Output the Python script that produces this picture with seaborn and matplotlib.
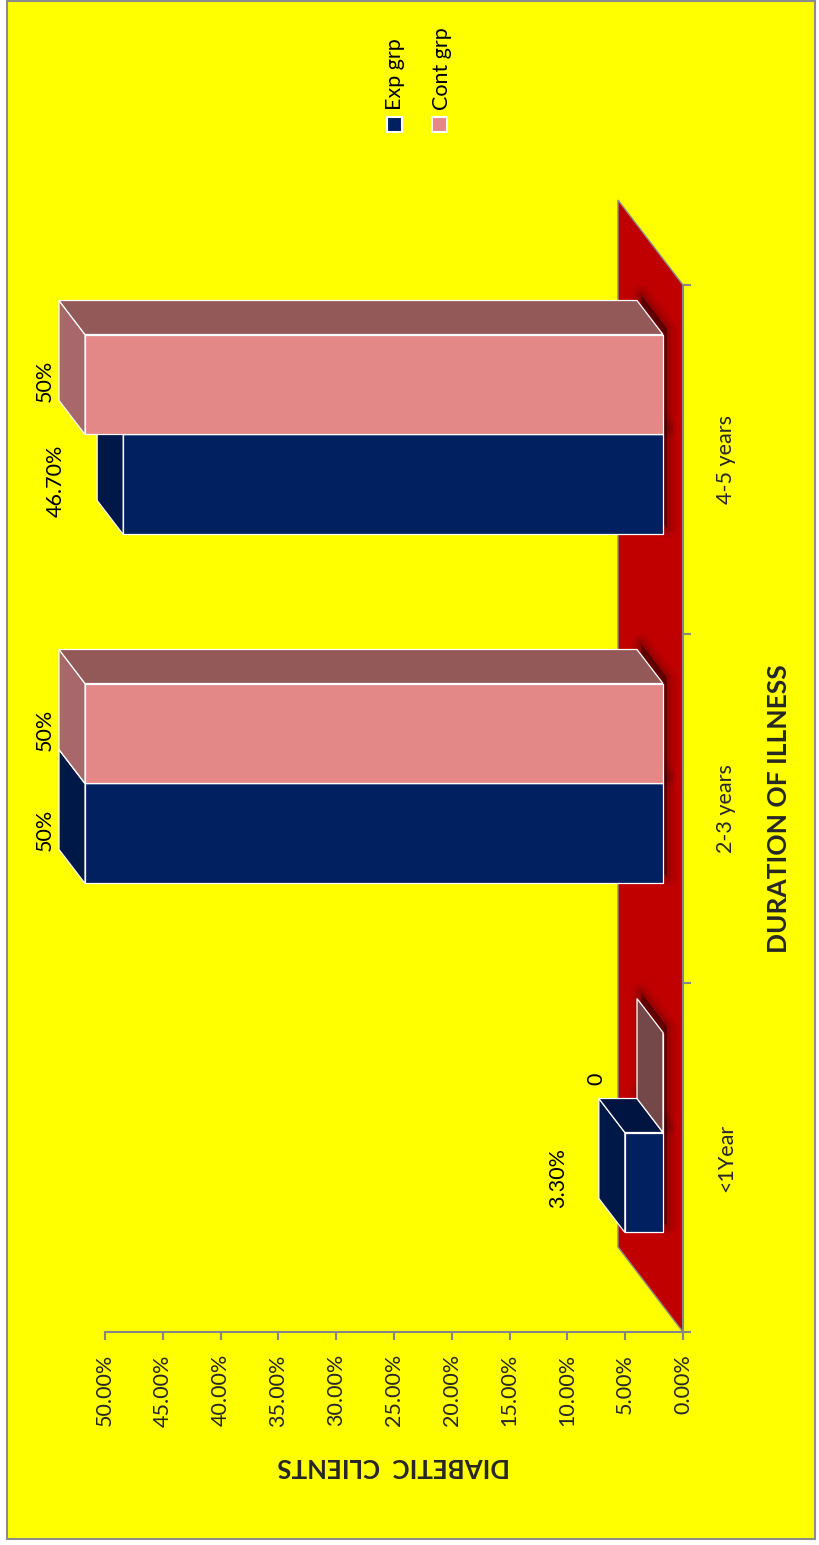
import numpy as np
import pandas as pd
import matplotlib
matplotlib.use("Agg")
import matplotlib.pyplot as plt
import seaborn as sns
from matplotlib.patches import Polygon, Rectangle
from matplotlib.transforms import ScaledTranslation

# ---------------- data ----------------
categories = ["<1Year", "2-3 years", "4-5 years"]
groups = ["Exp grp", "Cont grp"]
exp_values = [3.3, 50.0, 46.7]
cont_values = [0.0, 50.0, 50.0]
exp_labels = ["3.30%", "50%", "46.70%"]
cont_labels = ["0", "50%", "50%"]
value_ticks = [0, 5, 10, 15, 20, 25, 30, 35, 40, 45, 50]
value_tick_labels = ["0.00%", "5.00%", "10.00%", "15.00%", "20.00%", "25.00%",
                     "30.00%", "35.00%", "40.00%", "45.00%", "50.00%"]
x_title = "DIABETIC  CLIENTS"
y_title = "DURATION OF ILLNESS"

# ---------------- style ----------------
W, H = 820, 1545
sns.set_theme(style="white")
plt.rcParams["font.family"] = ["Lato", "DejaVu Sans"]

front_colors = ["#00205F", "#E38787"]
end_colors = ["#001848", "#A8676A"]
side_colors = ["#001442", "#935858"]
zero_end_colors = ["#001848", "#744749"]
axis_gray = "#868686"

fig = plt.figure(figsize=(W / 100, H / 100), dpi=100)
fig.patch.set_facecolor("white")
fig.patches.append(Rectangle((7 / W, 1 - 1539 / H), 808 / W, 1538 / H,
                             transform=fig.transFigure, facecolor="#FFFF00",
                             edgecolor="#8C8C8C", lw=1.5, zorder=-1))

ax = fig.add_axes([105 / W, 1 - 1332 / H, (683 - 105) / W, (1332 - 285) / H])
ax.set_facecolor("none")

df = pd.DataFrame({
    "Duration": categories * 2,
    "Group": [groups[0]] * len(categories) + [groups[1]] * len(categories),
    "Value": exp_values + cont_values,
})
sns.barplot(data=df, x="Value", y="Duration", hue="Group", order=categories,
            hue_order=groups, palette=front_colors, orient="h", width=0.573,
            saturation=1, edgecolor="white", linewidth=0.9, legend=False, ax=ax)
ax.set_xlim(50, 0)
ax.set_ylim(-0.5, 2.5)


def to_img(xd, yd):
    d = ax.transData.transform((xd, yd))
    return np.array([d[0], H - d[1]])


def from_img(p):
    return ax.transData.inverted().transform((p[0], H - p[1]))


front_off = np.array([-20.0, -25.0])
depth = np.array([-26.0, -34.0])
floor_depth = np.array([-65.0, -85.0])

# floor
A = to_img(0, -0.5)
B = to_img(0, 2.5)
floor_pts = [A, B, B + floor_depth, A + floor_depth]
floor = Polygon([from_img(p) for p in floor_pts], closed=True, facecolor="#C00000",
                edgecolor="#8C8C8C", lw=1.0, zorder=1, clip_on=False)
ax.add_patch(floor)

bars = list(ax.patches)[:-1]
labels_all = [exp_labels, cont_labels]
offset_tr = ax.transData + ScaledTranslation(front_off[0] / 100, -front_off[1] / 100,
                                             fig.dpi_scale_trans)
for i, patch in enumerate(bars):
    g = i // len(categories)
    k = i % len(categories)
    x0, w = patch.get_x(), patch.get_width()
    y0, h = patch.get_y(), patch.get_height()
    bt = to_img(x0, y0 + h) + front_off
    bb = to_img(x0, y0) + front_off
    et = to_img(x0 + w, y0 + h) + front_off
    eb = to_img(x0 + w, y0) + front_off
    z = 3 + g

    # soft shadow on the floor
    base = [bt, bb, bb + depth, bt + depth]
    for lw_, a_ in [(14, 0.05), (9, 0.07), (5, 0.09)]:
        sh = Polygon([from_img(p + np.array([4, -6])) for p in base], closed=True,
                     facecolor=(0, 0, 0, 0.15), edgecolor=(0, 0, 0, a_), lw=lw_,
                     zorder=2, clip_on=False, joinstyle="round")
        ax.add_patch(sh)
        sh.set_clip_path(floor)

    patch.set_transform(offset_tr)
    patch.set_zorder(z)
    patch.set_clip_on(False)

    ecol = end_colors[g] if w > 0 else zero_end_colors[g]
    end_face = Polygon([from_img(p) for p in [et, eb, eb + depth, et + depth]],
                       closed=True, facecolor=ecol, edgecolor="white", lw=0.9,
                       zorder=z, clip_on=False)
    ax.add_patch(end_face)
    if w > 0:
        side_face = Polygon([from_img(p) for p in [et, bt, bt + depth, et + depth]],
                            closed=True, facecolor=side_colors[g], edgecolor="white",
                            lw=0.9, zorder=z, clip_on=False)
        ax.add_patch(side_face)

    # data label
    lx = max(et[0] - 67, 45)
    ly = (et[1] + eb[1]) / 2 - 4
    ax.text(*from_img((lx, ly)), labels_all[g][k], rotation=90, ha="center",
            va="center", fontsize=15.5, color="black", clip_on=False, zorder=6)

# axes styling
for s in ["left", "top"]:
    ax.spines[s].set_visible(False)
for s in ["bottom", "right"]:
    ax.spines[s].set_color(axis_gray)
    ax.spines[s].set_linewidth(1.5)
    ax.spines[s].set_zorder(1.5)

ax.set_xticks(value_ticks)
ax.set_xticklabels(value_tick_labels, rotation=90)
ax.tick_params(axis="x", which="major", bottom=True, length=6, width=1.5,
               color=axis_gray, pad=10, labelsize=15.5, direction="out")

ax.yaxis.tick_right()
ax.set_yticks(range(len(categories)))
ax.set_yticklabels(categories, rotation=90, va="center")
ax.set_yticks([-0.5, 0.5, 1.5, 2.5], minor=True)
ax.tick_params(axis="y", which="major", left=False, right=True, length=0, pad=24,
               labelsize=15.5)
ax.tick_params(axis="y", which="minor", left=False, right=True, length=6, width=1.5,
               color=axis_gray, direction="out")

ax.set_xlabel(x_title, rotation=180, fontsize=18.5, fontweight="bold", labelpad=20)
ax.yaxis.set_label_position("right")
ax.set_ylabel(y_title, rotation=90, fontsize=19, fontweight="bold", labelpad=22)

# legend
leg_x_marker = [394.5, 439.5]
leg_x_text = [395, 442]
for gname, col, xm, xt in zip(groups, front_colors, leg_x_marker, leg_x_text):
    fig.patches.append(Rectangle(((xm - 7.5) / W, 1 - 132 / H), 15 / W, 15 / H,
                                 transform=fig.transFigure, facecolor=col,
                                 edgecolor="white", lw=1.5, zorder=2))
    fig.text(xt / W, 1 - 110 / H, gname, rotation=90, ha="center", va="bottom",
             fontsize=15.5, color="black")

fig.savefig("out.png", dpi=100, facecolor=fig.get_facecolor())
